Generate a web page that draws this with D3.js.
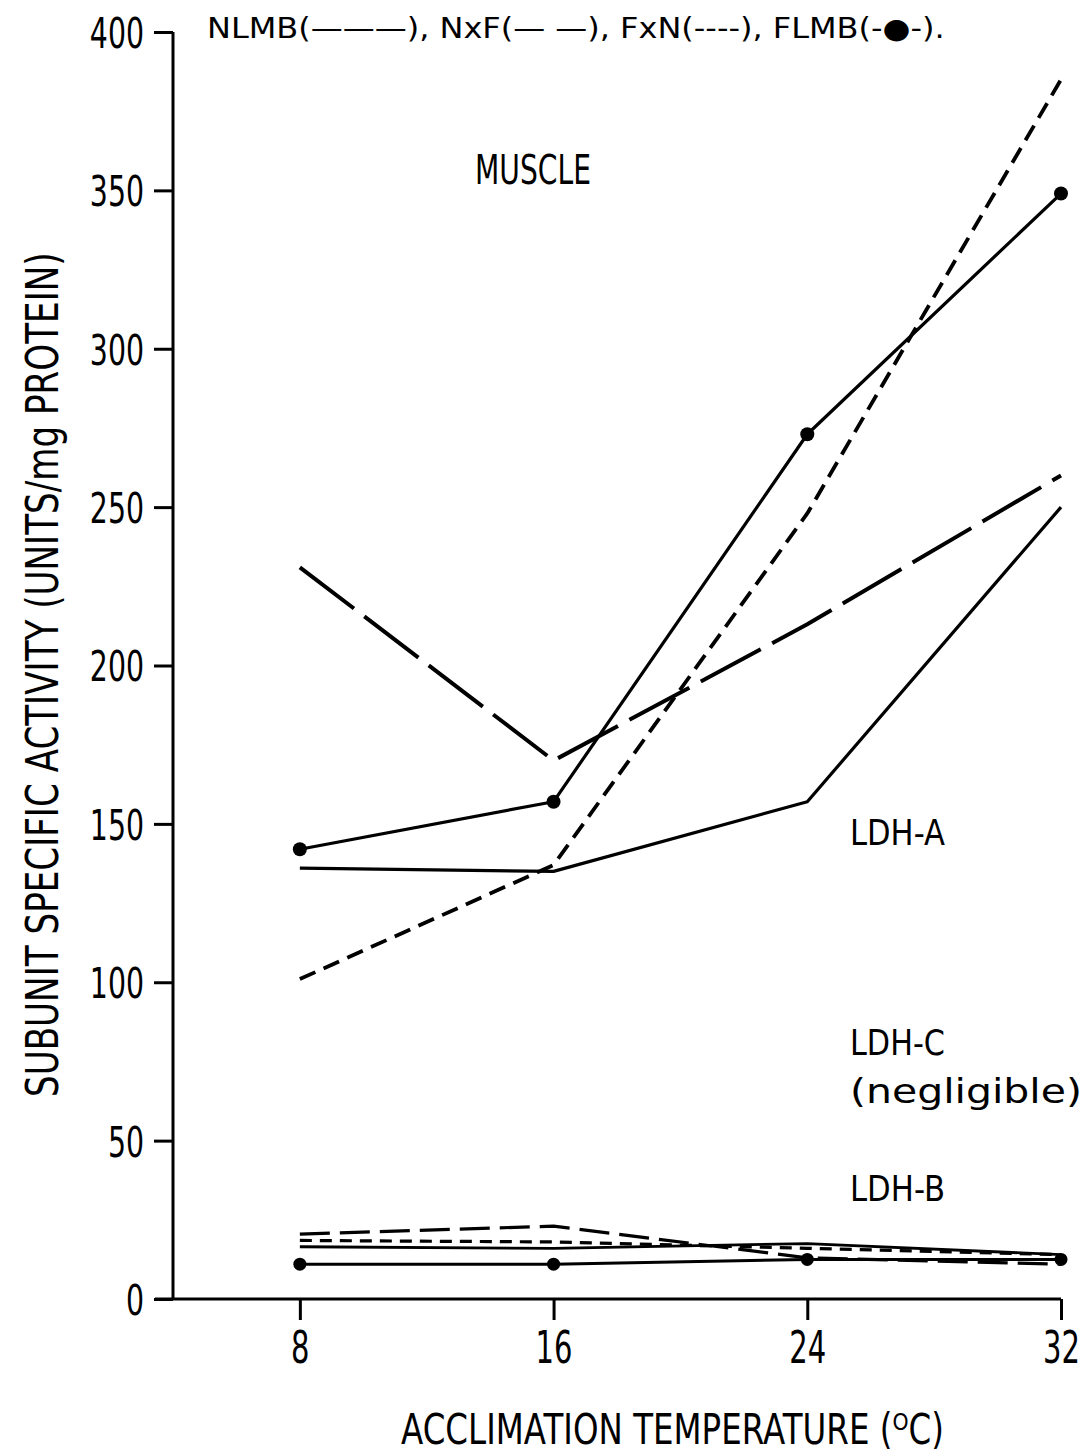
<!DOCTYPE html>
<html><head><meta charset="utf-8">
<script src="https://cdn.jsdelivr.net/npm/d3@7"></script>
<style>
html,body{margin:0;padding:0;background:#fff;}
svg text{font-family:"DejaVu Sans","Liberation Sans",sans-serif;fill:#000;}
</style></head>
<body>
<svg id="chart" width="1087" height="1456"></svg>
<script>
// ---- data ----
const temps = [8, 16, 24, 32];
const yTicks = [0, 50, 100, 150, 200, 250, 300, 350, 400];
const xTicks = [8, 16, 24, 32];
// LDH-A (muscle)
const ldhA_NLMB = [136, 135, 157, 250];
const ldhA_NxF  = [231, 170, 213, 260];
const ldhA_FxN  = [101, 137, 248, 385];
const ldhA_FLMB = [142, 157, 273, 349];
// LDH-B
const ldhB_NLMB = [16.5, 16, 17.5, 14];
const ldhB_NxF  = [20.5, 23, 13, 11];
const ldhB_FxN  = [18.5, 18, 16, 14];
const ldhB_FLMB = [11, 11, 12.5, 12.5];

const svg = d3.select("#chart");
const x = d3.scaleLinear().domain([4, 32]).range([173, 1061]);
const y = d3.scaleLinear().domain([0, 400]).range([1299, 32]);

const SX = 0.66; // horizontal condensing of the typewriter-like digits

// axes
const yAxis = d3.axisLeft(y).tickValues(yTicks).tickSize(19).tickPadding(10);
const gy = svg.append("g").attr("transform", "translate(173,0)").call(yAxis);
gy.select(".domain").attr("stroke-width", 3).attr("d", `M0,${y(400)}V${y(0)}`);
gy.selectAll(".tick line").attr("stroke-width", 3);
gy.selectAll(".tick text").attr("font-size", 43).attr("dy", "0.36em")
  .attr("font-family", "DejaVu Sans")
  .attr("x", -29 / SX).attr("transform", `scale(${SX},1)`);

const xAxis = d3.axisBottom(x).tickValues(xTicks).tickSize(21).tickPadding(12);
const gx = svg.append("g").attr("transform", "translate(0,1299)").call(xAxis);
gx.select(".domain").attr("stroke-width", 3).attr("d", `M${x(4) - 18},0H${x(32)}`);
gx.selectAll(".tick line").attr("stroke-width", 3);
gx.selectAll(".tick text").attr("font-size", 44)
  .attr("font-family", "DejaVu Sans").attr("transform", `scale(${SX},1)`);

const line = d3.line().x((d, i) => x(temps[i])).y(d => y(d));

function series(vals, dash, width) {
  svg.append("path").datum(vals).attr("d", line)
    .attr("fill", "none").attr("stroke", "#000").attr("stroke-width", width)
    .attr("stroke-dasharray", dash || null).attr("stroke-linejoin", "round");
}
// LDH-A
series(ldhA_NLMB, null, 3.2);
series(ldhA_NxF, "68,13", 4);
series(ldhA_FxN, "17,9", 3.8);
series(ldhA_FLMB, null, 3.2);
svg.append("g").selectAll("circle").data(ldhA_FLMB).join("circle")
  .attr("cx", (d, i) => x(temps[i])).attr("cy", d => y(d)).attr("r", 7);
// LDH-B
series(ldhB_NLMB, null, 2.8);
series(ldhB_NxF, "30,10", 3.2);
series(ldhB_FxN, "12,8", 3.2);
series(ldhB_FLMB, null, 3);
svg.append("g").selectAll("circle").data(ldhB_FLMB).join("circle")
  .attr("cx", (d, i) => x(temps[i])).attr("cy", d => y(d)).attr("r", 6.5);

// texts fitted to a target width via a horizontal scale transform
function fit(s, xx, yy, size, width, rotate) {
  const g = svg.append("g");
  const t = g.append("text").attr("font-size", size).text(s);
  const natural = t.node().getComputedTextLength();
  const sx = width / natural;
  g.attr("transform", `translate(${xx},${yy})${rotate ? " rotate(" + rotate + ")" : ""} scale(${sx},1)`);
  return t;
}
fit("NLMB(\u2014\u2014\u2014), NxF(\u2014 \u2014), FxN(----), FLMB(-\u25CF-).", 207, 38, 28, 738);
fit("MUSCLE", 475, 184, 40, 116);
fit("LDH-A", 850, 845, 36, 95);
fit("LDH-C", 850, 1055, 36, 95);
fit("(negligible)", 850, 1103, 34, 232);
fit("LDH-B", 850, 1201, 36, 95);

// axis titles
fit("ACCLIMATION TEMPERATURE (\u1D3CC)", 401, 1444, 42, 543);
fit("SUBUNIT SPECIFIC ACTIVITY (UNITS/mg PROTEIN)", 58, 1097, 44, 845, -90);
</script>
</body></html>
